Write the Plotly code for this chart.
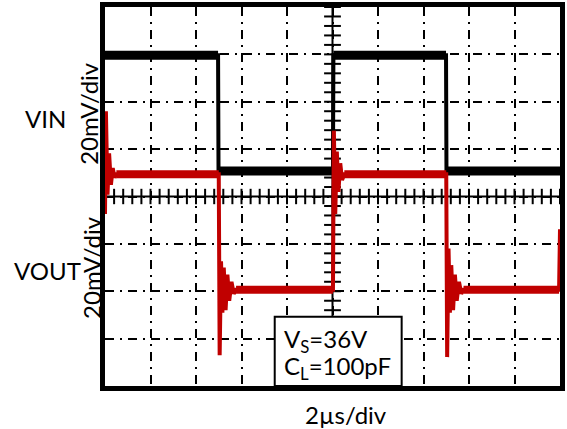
import plotly.graph_objects as go

# Scope screen: 10 horizontal divisions at 2 µs/div, 8 vertical divisions
T_SPAN = [0, 20]      # µs
V_SPAN = [0, 8]       # divisions

# VIN (black trace): time in µs, level in divisions from the bottom edge
vin_t = [0.00, 4.97, 4.99, 10.02, 10.04, 14.99, 15.01, 20.00]
vin_v = [6.98, 6.98, 4.54, 4.54, 6.98, 6.98, 4.54, 4.54]

# VOUT (red trace) including the edge ringing
vout_t = [0.00, 0.04, 0.11, 0.18, 0.26, 0.34, 0.42, 0.50,
          5.00, 5.04, 5.10, 5.16, 5.22, 5.30, 5.38, 5.46, 5.56, 5.66, 5.76,
          10.02, 10.06, 10.12, 10.19, 10.26, 10.34, 10.42, 10.52,
          15.00, 15.04, 15.10, 15.16, 15.22, 15.30, 15.38, 15.46, 15.56,
          15.66, 15.76,
          19.96, 20.00]
vout_v = [3.63, 5.80, 4.04, 4.91, 4.25, 4.60, 4.40, 4.47,
          4.47, 0.65, 2.63, 1.55, 2.50, 1.60, 2.35, 1.80, 2.20, 1.95, 2.03,
          2.03, 5.39, 3.63, 4.95, 4.10, 4.70, 4.35, 4.47,
          4.47, 0.61, 2.90, 1.55, 2.55, 1.60, 2.35, 1.80, 2.20,
          1.95, 2.03,
          2.03, 3.31]

BLACK = "#000000"
RED = "#c00000"
FONT = "Lato"


def plateaus(ts, vs):
    """Flat stretches of a trace (equal consecutive levels), None-separated."""
    px, py = [], []
    for i in range(len(ts) - 1):
        if vs[i] == vs[i + 1]:
            px += [ts[i], ts[i + 1], None]
            py += [vs[i], vs[i + 1], None]
    return px, py


fig = go.Figure()

# Minor ticks along the centre crosshair (5 per division)
tick_x = [i * 0.4 for i in range(51)]
tick_y = [i * 0.2 for i in range(41)]
fig.add_trace(go.Scatter(
    x=tick_x, y=[4] * len(tick_x), mode="markers", hoverinfo="skip",
    marker=dict(symbol="line-ns", size=11, line=dict(width=2, color=BLACK))))
fig.add_trace(go.Scatter(
    x=[10] * len(tick_y), y=tick_y, mode="markers", hoverinfo="skip",
    marker=dict(symbol="line-ew", size=12, line=dict(width=2, color=BLACK))))

# Waveforms: thin edges plus a thicker, noisy-looking band on the flat parts
for ts, vs, col, w_edge, w_flat in [(vin_t, vin_v, BLACK, 4, 9),
                                    (vout_t, vout_v, RED, 4, 8)]:
    fig.add_trace(go.Scatter(x=ts, y=vs, mode="lines",
                             line=dict(color=col, width=w_edge)))
    fx, fy = plateaus(ts, vs)
    fig.add_trace(go.Scatter(x=fx, y=fy, mode="lines",
                             line=dict(color=col, width=w_flat)))

grid_dash = "9px,6px,2px,6px"
fig.update_xaxes(range=T_SPAN, dtick=2, showgrid=True, gridcolor=BLACK,
                 gridwidth=2, griddash=grid_dash, zeroline=False,
                 showticklabels=False, ticks="", showline=True, mirror=True,
                 linecolor=BLACK, linewidth=5)
fig.update_yaxes(range=V_SPAN, dtick=1, showgrid=True, gridcolor=BLACK,
                 gridwidth=2, griddash=grid_dash, zeroline=False,
                 showticklabels=False, ticks="", showline=True, mirror=True,
                 linecolor=BLACK, linewidth=5)

# Solid centre crosshair
fig.add_shape(type="line", x0=10, x1=10, y0=0, y1=8, layer="below",
              line=dict(color=BLACK, width=2))
fig.add_shape(type="line", x0=0, x1=20, y0=4, y1=4, layer="below",
              line=dict(color=BLACK, width=2))

# Test-condition box
fig.add_shape(type="rect", x0=7.46, x1=13.04, y0=0, y1=1.46, layer="above",
              fillcolor="white", line=dict(color=BLACK, width=2))

txt = dict(family=FONT, size=24, color=BLACK)
ann = [
    dict(x=7.8, y=0.96, xref="x", yref="y", text="V<sub>S</sub>=36V",
         xanchor="left"),
    dict(x=7.8, y=0.40, xref="x", yref="y", text="C<sub>L</sub>=100pF",
         xanchor="left"),
    dict(x=-0.130, y=0.706, xref="paper", yref="paper", text="VIN"),
    dict(x=-0.126, y=0.305, xref="paper", yref="paper", text="VOUT"),
    dict(x=-0.038, y=0.72, xref="paper", yref="paper", text="20mV/div",
         textangle=-90),
    dict(x=-0.030, y=0.3125, xref="paper", yref="paper", text="20mV/div",
         textangle=-90),
    dict(x=0.530, y=-0.075, xref="paper", yref="paper", text="2µs/div"),
]
for a in ann:
    fig.add_annotation(showarrow=False, font=txt, yanchor="middle",
                       **({"xanchor": "center"} | a))

fig.update_layout(
    width=567, height=429, showlegend=False,
    margin=dict(l=105, r=2, t=2, b=43),
    paper_bgcolor="white", plot_bgcolor="white",
    font=dict(family=FONT),
)

fig.write_html("out.html")
